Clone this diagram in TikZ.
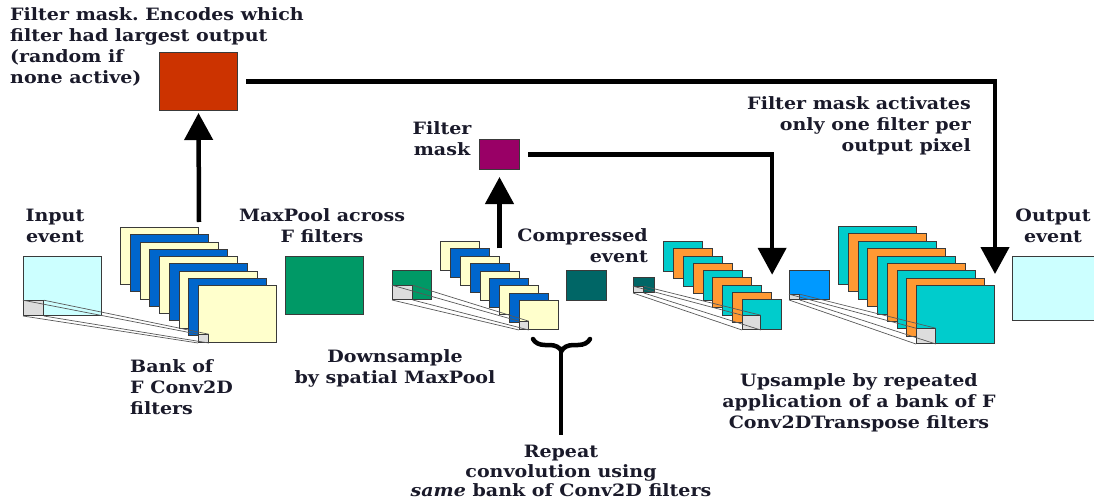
\documentclass[tikz,border=0pt]{standalone}
\usepackage{fontspec}
\setmainfont{DejaVu Serif}[FakeStretch=1.12]
\frenchspacing
\usetikzlibrary{arrows.meta,decorations.pathreplacing}

\definecolor{ink}{HTML}{1A1A2A}
\definecolor{edge}{HTML}{3A3A3A}
\definecolor{inputcyan}{HTML}{CCFFFF}
\definecolor{cream}{HTML}{FFFFCC}
\definecolor{convblue}{HTML}{0066CC}
\definecolor{poolgreen}{HTML}{009966}
\definecolor{maskred}{HTML}{CC3300}
\definecolor{maskpurple}{HTML}{990066}
\definecolor{codeteal}{HTML}{006666}
\definecolor{deconvteal}{HTML}{00CCCC}
\definecolor{deconvorange}{HTML}{FF9933}
\definecolor{upblue}{HTML}{0099FF}
\definecolor{patch}{HTML}{DDDDDD}

\tikzset{
  lbl/.style={text=ink, font=\bfseries\fontsize{17}{21}\selectfont, inner sep=0pt, align=center},
  card/.style={draw=edge, line width=1pt, inner sep=0pt, anchor=north west},
  patchsq/.style={draw=edge, line width=0.8pt, fill=patch, inner sep=0pt, anchor=south west},
  beam/.style={draw=edge!85, line width=0.7pt},
  flow/.style={draw=black, line width=4.5pt, -{Triangle[width=28pt,length=27pt]}},
  plain/.style={draw=black, line width=4.5pt},
}

\begin{document}
\begin{tikzpicture}[x=1pt,y=-1pt]
\useasboundingbox (0,0) rectangle (1094,500);

% ---- stage 1: input, convolution bank, max over filters
\node[card, fill=inputcyan, minimum width=78pt, minimum height=59pt] (input) at (23,256) {};
\foreach \i in {0,...,8}{
  \ifodd\i \def\cardcol{convblue}\else\def\cardcol{cream}\fi
  \node[card, fill=\cardcol, minimum width=78pt, minimum height=57pt] (s1c\i) at ({120+9.75*\i},{227+7.25*\i}) {};
}
\node[card, fill=poolgreen, minimum width=78pt, minimum height=58pt] (maxpool) at (285,256) {};
\node[card, fill=maskred, minimum width=78pt, minimum height=58pt] (mask1) at (159,52) {};

\node[patchsq, minimum width=20pt, minimum height=15pt] (p1a) at (input.south west) {};
\node[patchsq, minimum width=10pt, minimum height=8pt] (p1b) at (s1c8.south west) {};
\foreach \a in {north west, north east, south west, south east}
  \draw[beam] (p1a.\a) -- (p1b.\a);

% ---- stage 2: pooled map, repeated convolution
\node[card, fill=poolgreen, minimum width=39pt, minimum height=29pt] (pooled) at (392,270) {};
\foreach \i in {0,...,8}{
  \ifodd\i \def\cardcol{convblue}\else\def\cardcol{cream}\fi
  \node[card, fill=\cardcol, minimum width=39pt, minimum height=29pt] (s2c\i) at ({440+9.875*\i},{241+7.375*\i}) {};
}
\node[card, fill=maskpurple, minimum width=40pt, minimum height=30pt] (mask2) at (479,139) {};
\node[card, fill=codeteal, minimum width=40pt, minimum height=30pt] (code) at (566,270) {};

\node[patchsq, minimum width=20pt, minimum height=14pt] (p2a) at (pooled.south west) {};
\node[patchsq, minimum width=9pt, minimum height=8pt] (p2b) at (s2c8.south west) {};
\foreach \a in {north west, north east, south west, south east}
  \draw[beam] (p2a.\a) -- (p2b.\a);

% ---- stage 3: first transposed convolution
\node[card, fill=codeteal, minimum width=21pt, minimum height=15pt] (tiny) at (633,277) {};
\foreach \i in {0,...,8}{
  \ifodd\i \def\cardcol{deconvorange}\else\def\cardcol{deconvteal}\fi
  \node[card, fill=\cardcol, minimum width=39pt, minimum height=30pt] (s3c\i) at ({663+9.875*\i},{241+7.25*\i}) {};
}
\node[patchsq, minimum width=10pt, minimum height=6pt] (p3a) at (tiny.south west) {};
\node[patchsq, minimum width=18pt, minimum height=14pt] (p3b) at (s3c8.south west) {};
\foreach \a in {north west, north east, south west, south east}
  \draw[beam] (p3a.\a) -- (p3b.\a);

% ---- stage 4: second transposed convolution, output
\node[card, fill=upblue, minimum width=40pt, minimum height=29pt] (upin) at (789,270) {};
\foreach \i in {0,...,8}{
  \ifodd\i \def\cardcol{deconvorange}\else\def\cardcol{deconvteal}\fi
  \node[card, fill=\cardcol, minimum width=78pt, minimum height=58pt] (s4c\i) at ({838+9.75*\i},{226+7.375*\i}) {};
}
\node[patchsq, minimum width=10pt, minimum height=5pt] (p4a) at (upin.south west) {};
\node[patchsq, minimum width=19pt, minimum height=15pt] (p4b) at (s4c8.south west) {};
\foreach \a in {north west, north east, south west, south east}
  \draw[beam] (p4a.\a) -- (p4b.\a);
\node[card, fill=inputcyan, minimum width=90pt, minimum height=64pt] (output) at (1012,256) {};

% ---- mask connectors
\draw[flow] ([yshift=5pt]s1c0.north east) -- ([yshift=-2pt]mask1.south);
\draw[flow] (mask2.south |- s2c1.north) -- ([yshift=-7pt]mask2.south);
\draw[flow] ([xshift=8pt]mask2.east) -- (mask2.east -| s3c7.north east) -- ([yshift=17pt]s3c7.north east);
\draw[flow] ([xshift=8pt]mask1.east) -- (mask1.east -| s4c8.north east) -- ([yshift=11pt]s4c8.north east);

% ---- brace marking the repeated convolution
\coordinate (braceR) at (590,339);
\coordinate (braceL) at (533,339);
\coordinate (stemTop) at (561,349);
\coordinate (stemEnd) at (561,435);
\draw[plain, line cap=round, decorate, decoration={brace, amplitude=12pt}] (braceR) -- (braceL);
\draw[plain] (stemTop) -- (stemEnd);

% ---- labels
\node[lbl, align=left, anchor=west] (tmask1) at (10,47)
  {Filter mask. Encodes which\\filter had largest output\\(random if\\none active)};
\node[lbl] (tinput) at (55,226) {Input\\event};
\node[lbl] (tmaxpool) at (322,226) {MaxPool across\\F filters};
\node[lbl, align=left, anchor=west] (tbank) at (130,387) {Bank of\\F Conv2D\\filters};
\node[lbl] (tdown) at (395,368) {Downsample\\by spatial MaxPool};
\node[lbl] (tmask2) at (442,139) {Filter\\mask};
\node[lbl, align=right, anchor=east] (tcode) at (648,246) {Compressed\\event};
\node[lbl, align=right, anchor=east] (tactiv) at (971,126) {Filter mask activates\\only one filter per\\output pixel};
\node[lbl] (toutput) at (1053,226) {Output\\event};
\node[lbl] (tup) at (859,403) {Upsample by repeated\\application of a bank of F\\Conv2DTranspose filters};
\node[lbl, font=\bfseries\fontsize{17}{19.5}\selectfont] (trepeat) at (561,471)
  {Repeat\\convolution using\\\textit{same} bank of Conv2D filters};
\end{tikzpicture}
\end{document}
